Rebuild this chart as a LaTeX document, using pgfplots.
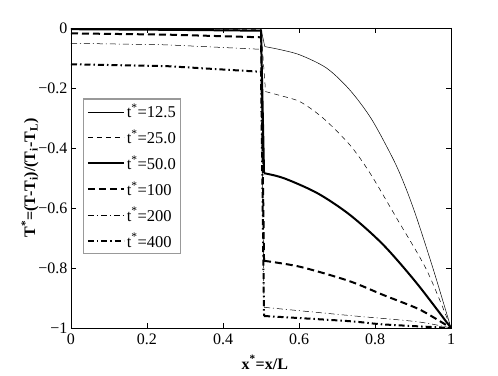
\documentclass[border=0pt]{standalone}
\usepackage{fontspec}
\setmainfont{Liberation Serif}
\usepackage{pgfplots}
\pgfplotsset{compat=1.18}

\begin{document}
\begin{tikzpicture}
\path[use as bounding box] (-71pt,-47pt) rectangle (427pt,328pt);
\begin{axis}[
    at={(0,0)}, anchor=south west,
    scale only axis,
    width=380pt, height=300pt,
    xmin=0, xmax=1, ymin=-1, ymax=0,
    xtick={0,0.2,0.4,0.6,0.8,1},
    xticklabels={0,0.2,0.4,0.6,0.8,1},
    ytick={-1,-0.8,-0.6,-0.4,-0.2,0},
    yticklabels={−1,−0.8,−0.6,−0.4,−0.2,0},
    tick align=inside,
    major tick length=5pt,
    axis line style={line width=0.8pt},
    tick style={line width=0.6pt, black},
    tick label style={font=\fontsize{16}{18}\selectfont},
    xticklabel style={yshift=-2pt},
    xlabel={\textbf{x\textsuperscript{*}=x/L}},
    ylabel={\textbf{T\textsuperscript{*}=(T-T\textsubscript{i})/(T\textsubscript{i}-T\textsubscript{L})}},
    label style={font=\fontsize{16}{18}\selectfont},
    xlabel style={at={(axis description cs:0.51,-0.08)}, anchor=north},
    ylabel style={at={(axis description cs:-0.108,0.5)}, anchor=center},
    legend style={at={(0.032,0.765)}, anchor=north west,
        draw=gray!80, line width=1.2pt,
        font=\fontsize{16.5}{18}\selectfont,
        row sep=6.5pt, inner sep=3pt},
    legend cell align=left,
    legend image code/.code={\draw[#1] (0pt,0pt) -- (36pt,0pt);},
]
% t* = 12.5
\addplot[black, line width=0.5pt] coordinates {
(0,-0.001) (0.25,-0.002) (0.5,-0.003) (0.51,-0.062)};
\addlegendentry{t\textsuperscript{*}=12.5}
\addplot[black, line width=0.5pt, smooth, forget plot] coordinates {
(0.51,-0.062) (0.55,-0.072)
(0.603,-0.09) (0.673,-0.134) (0.734,-0.207) (0.791,-0.304) (0.849,-0.44)
(0.88,-0.53) (0.91,-0.634) (0.954,-0.807) (1,-1)};
% t* = 25
\addplot[black, line width=0.5pt, dash pattern=on 5pt off 4pt] coordinates {
(0,-0.002) (0.25,-0.003) (0.5,-0.005) (0.512,-0.212)};
\addlegendentry{t\textsuperscript{*}=25.0}
\addplot[black, line width=0.5pt, dash pattern=on 5pt off 4pt, smooth, forget plot] coordinates {
(0.512,-0.212) (0.55,-0.225)
(0.603,-0.246) (0.664,-0.301) (0.734,-0.39) (0.787,-0.484) (0.857,-0.634)
(0.936,-0.807) (1,-1)};
% t* = 50
\addplot[black, line width=2pt] coordinates {
(0,-0.004) (0.25,-0.006) (0.5,-0.009) (0.508,-0.484)};
\addlegendentry{t\textsuperscript{*}=50.0}
\addplot[black, line width=2pt, smooth, forget plot] coordinates {
(0.508,-0.484) (0.561,-0.501)
(0.649,-0.551) (0.734,-0.623) (0.822,-0.723) (0.91,-0.851) (1,-1)};
% t* = 100
\addplot[black, line width=2pt, dash pattern=on 7pt off 4pt] coordinates {
(0,-0.018) (0.25,-0.022) (0.5,-0.031) (0.508,-0.776)};
\addlegendentry{t\textsuperscript{*}=100}
\addplot[black, line width=2pt, dash pattern=on 7pt off 4pt, smooth, forget plot] coordinates {
(0.508,-0.776) (0.603,-0.796)
(0.731,-0.843) (0.822,-0.89) (0.91,-0.934) (0.956,-0.966) (1,-1)};
% t* = 200
\addplot[black, line width=0.5pt, dash pattern=on 6pt off 3pt on 1pt off 3pt] coordinates {
(0,-0.051) (0.25,-0.056) (0.5,-0.071) (0.508,-0.931)};
\addlegendentry{t\textsuperscript{*}=200}
\addplot[black, line width=0.5pt, dash pattern=on 6pt off 3pt on 1pt off 3pt, smooth, forget plot] coordinates {
(0.508,-0.931) (0.73,-0.958) (0.91,-0.979) (1,-1)};
% t* = 400
\addplot[black, line width=2pt, dash pattern=on 6pt off 3pt on 1.5pt off 3pt] coordinates {
(0,-0.121) (0.25,-0.127) (0.5,-0.146) (0.508,-0.96)};
\addlegendentry{t\textsuperscript{*}=400}
\addplot[black, line width=2pt, dash pattern=on 6pt off 3pt on 1.5pt off 3pt, smooth, forget plot] coordinates {
(0.508,-0.96) (0.73,-0.977) (0.822,-0.988) (1,-1)};
\end{axis}
\end{tikzpicture}
\end{document}
